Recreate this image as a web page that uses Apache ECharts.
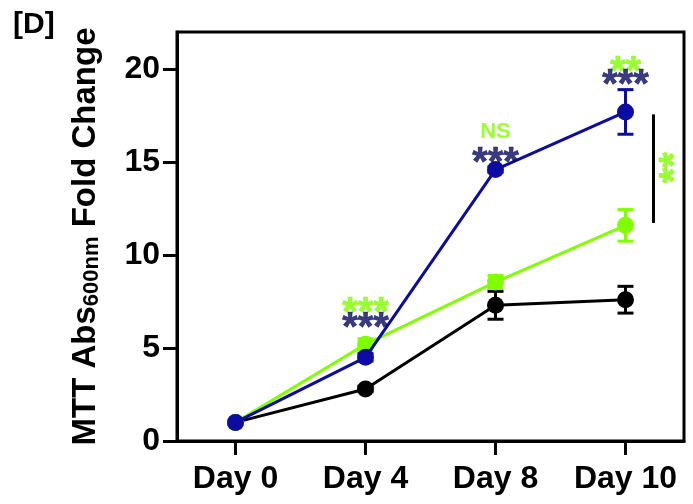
<!DOCTYPE html>
<html>
<head>
<meta charset="utf-8">
<script src="https://cdn.jsdelivr.net/npm/echarts@6/dist/echarts.min.js"></script>
<style>
  html, body { margin: 0; padding: 0; background: #fff; }
  #chart { width: 693px; height: 504px; }
</style>
</head>
<body>
<div id="chart"></div>
<script>
var chart = echarts.init(document.getElementById('chart'));

// categories and tick labels
var days = ['Day 0', 'Day 4', 'Day 8', 'Day 10'];
var yTicks = [0, 5, 10, 15, 20];

// mean values and error (SD) per group
var blackMean = [1.0, 2.8, 7.3, 7.6];
var blackErr = [0, 0.15, 0.75, 0.72];
var greenMean = [1.0, 5.2, 8.55, 11.6];
var greenErr = [0, 0.3, 0.35, 0.85];
var blueMean = [1.0, 4.5, 14.6, 17.7];
var blueErr = [0, 0.2, 0.15, 1.2];

var BLACK = '#000000';
var GREEN = '#80ff00';
var BLUE = '#0c0ca3';
var NAVY = '#0a0a60';

// significance marks: [day index, y value, text, colour]
var marks = [
    [1, 7.3, '***', GREEN],
    [1, 6.5, '***', NAVY],
    [2, 15.4, '***', NAVY],
    [3, 20.3, '**', GREEN],
    [3, 19.6, '***', NAVY]
];

var FONT = 'Liberation Sans';

function pts(arr) {
    return arr.map(function (v, i) { return [i, v]; });
}

function errData(mean, err) {
    return mean.map(function (v, i) { return [i, v - err[i], v + err[i]]; });
}

function errSeries(mean, err, color, z) {
    return {
        type: 'custom',
        z: z,
        silent: true,
        data: errData(mean, err),
        renderItem: function (params, api) {
            var x = api.value(0);
            var lo = api.coord([x, api.value(1)]);
            var hi = api.coord([x, api.value(2)]);
            if (Math.abs(lo[1] - hi[1]) < 1) return null;
            var w = 8;
            var st = { stroke: color, lineWidth: 3 };
            return {
                type: 'group',
                children: [
                    { type: 'line', shape: { x1: hi[0], y1: hi[1], x2: lo[0], y2: lo[1] }, style: st },
                    { type: 'line', shape: { x1: hi[0] - w, y1: hi[1], x2: hi[0] + w, y2: hi[1] }, style: st },
                    { type: 'line', shape: { x1: lo[0] - w, y1: lo[1], x2: lo[0] + w, y2: lo[1] }, style: st }
                ]
            };
        }
    };
}

function lineSeries(mean, color, z) {
    return {
        type: 'line',
        z: z,
        data: pts(mean),
        symbol: 'circle',
        symbolSize: 17,
        lineStyle: { color: color, width: 3 },
        itemStyle: { color: color },
        silent: true
    };
}

var option = {
    animation: false,
    grid: {
        left: 177, right: 9, top: 32, bottom: 63,
        show: true, borderColor: '#000', borderWidth: 3
    },
    graphic: [{
        type: 'text', left: 13, top: 10,
        style: { text: '[D]', font: 'bold 30px "Liberation Sans"', fill: '#000' }
    }],
    xAxis: {
        type: 'value',
        min: -0.45, max: 3.45,
        axisLine: { onZero: false, lineStyle: { color: '#000', width: 3 } },
        axisTick: { customValues: [0, 1, 2, 3], length: 14, lineStyle: { width: 3, color: '#000' } },
        axisLabel: {
            customValues: [0, 1, 2, 3],
            formatter: function (v) { return days[Math.round(v)]; },
            margin: 22, color: '#000', fontFamily: FONT, fontWeight: 'bold', fontSize: 32
        },
        splitLine: { show: false }
    },
    yAxis: {
        type: 'value',
        min: 0, max: 22,
        axisLine: { show: true, onZero: false, lineStyle: { color: '#000', width: 3 } },
        axisTick: { show: true, customValues: yTicks, length: 14, lineStyle: { width: 3, color: '#000' } },
        axisLabel: {
            customValues: yTicks,
            margin: 17, color: '#000', fontFamily: FONT, fontWeight: 'bold', fontSize: 32
        },
        splitLine: { show: false },
        name: '{a|MTT Abs}{b|600nm}{a| Fold Change}',
        nameLocation: 'middle',
        nameGap: 74,
        nameTextStyle: {
            rich: {
                a: { fontFamily: FONT, fontWeight: 'bold', fontSize: 33, color: '#000' },
                b: { fontFamily: FONT, fontWeight: 'bold', fontSize: 22, color: '#000', padding: [12, 0, 0, 0] }
            }
        }
    },
    series: [
        lineSeries(blackMean, BLACK, 2),
        errSeries(blackMean, blackErr, BLACK, 2),
        lineSeries(greenMean, GREEN, 3),
        errSeries(greenMean, greenErr, GREEN, 3),
        lineSeries(blueMean, BLUE, 4),
        errSeries(blueMean, blueErr, BLUE, 4),
        {
            type: 'scatter',
            z: 6,
            silent: true,
            symbolSize: 0,
            data: marks.map(function (m) {
                return {
                    value: [m[0], m[1]],
                    label: { formatter: m[2], color: m[3], textBorderColor: m[3] }
                };
            }),
            label: {
                show: true, position: 'inside', offset: [0, 9],
                fontFamily: FONT, fontWeight: 'bold', fontSize: 40,
                textBorderWidth: 0.6
            },
            markLine: {
                silent: true,
                symbol: 'none',
                lineStyle: { color: '#000', width: 3, type: 'solid' },
                label: { show: false },
                data: [[{ coord: [3.21, 17.57] }, { coord: [3.21, 11.73] }]]
            }
        },
        {
            type: 'scatter',
            z: 6,
            silent: true,
            symbolSize: 0,
            data: [
                { value: [2, 16.6], label: { formatter: 'NS', fontSize: 22, offset: [0, 0], textBorderWidth: 0 } },
                { value: [3.31, 14.7], label: { formatter: '**', rotate: 90, offset: [0, 10] } }
            ],
            label: {
                show: true, position: 'inside', color: GREEN,
                fontFamily: FONT, fontWeight: 'bold', fontSize: 40,
                textBorderColor: GREEN, textBorderWidth: 0.6
            }
        }
    ]
};

chart.setOption(option);
</script>
</body>
</html>
